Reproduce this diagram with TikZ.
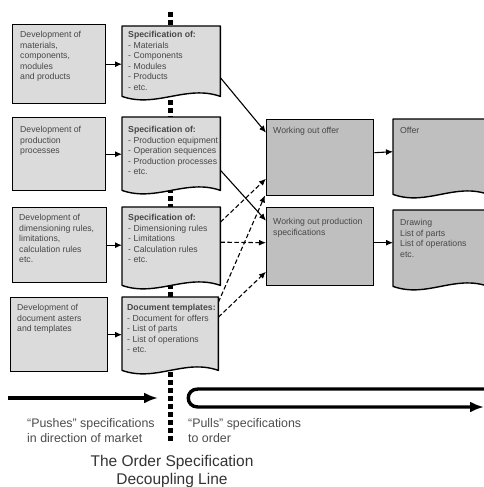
\documentclass[tikz,border=0pt]{standalone}
\usepackage{fontspec}
\setmainfont{Liberation Sans}
\usetikzlibrary{arrows.meta,calc}
\definecolor{lightbox}{gray}{0.86}
\definecolor{darkbox}{gray}{0.75}
\definecolor{txtgray}{gray}{0.28}
\definecolor{lowgray}{gray}{0.3}
\definecolor{titlegray}{gray}{0.2}
\newcommand{\docshape}[2]{%
  \filldraw[doc, fill=#2] (#1.south west) -- (#1.north west) -- (#1.north east) -- (#1.south east)
    .. controls ($(#1.south east)+(-34,-12)$) and ($(#1.south west)+(34,12)$) .. (#1.south west) -- cycle;}
\begin{document}
\begin{tikzpicture}[x=1pt,y=-1pt,
  box/.style={draw=black, line width=1.4pt, rectangle, inner sep=0pt, anchor=north west},
  lbox/.style={box, fill=lightbox},
  rbox/.style={box, fill=darkbox},
  docnode/.style={rectangle, inner sep=0pt, anchor=north west},
  doc/.style={draw=black, line width=1.4pt, line join=round},
  txt/.style={anchor=north west, inner sep=0pt, align=left, text=txtgray, font=\fontsize{8.7}{10.6}\selectfont},
  conn/.style={line width=1.1pt, -{Latex[length=7pt,width=6pt]}},
  dconn/.style={conn, dash pattern=on 4.5pt off 2.5pt},
  big/.style={line width=3.4pt, -{Latex[length=14pt,width=11pt]}},
  decoup/.style={line width=5pt, dash pattern=on 5pt off 3pt},
  lowtxt/.style={anchor=north west, inner sep=0pt, align=left, text=lowgray, font=\fontsize{12.4}{15}\selectfont},
]
\clip (0,0) rectangle (484,487);
\fill[white] (0,0) rectangle (484,487);

% decoupling line
\coordinate (dtop) at (170,12);
\coordinate (dbot) at (170,441);
\draw[decoup] (dtop) -- (dbot);

% left boxes
\node[lbox, minimum width=93pt, minimum height=79pt] (L1) at (12,24) {};
\node[lbox, minimum width=93pt, minimum height=73pt] (L2) at (12,117) {};
\node[lbox, minimum width=94pt, minimum height=75pt] (L3) at (12,207) {};
\node[lbox, minimum width=97pt, minimum height=74pt] (L4) at (10,297) {};

% specification documents
\node[docnode, minimum width=98pt, minimum height=70pt] (S1) at (122,26) {};
\node[docnode, minimum width=98pt, minimum height=73pt] (S2) at (122,117) {};
\node[docnode, minimum width=98pt, minimum height=78pt] (S3) at (122,207) {};
\node[docnode, minimum width=96pt, minimum height=73pt] (S4) at (122,297) {};
\docshape{S1}{lightbox}
\docshape{S2}{lightbox}
\docshape{S3}{lightbox}
\docshape{S4}{lightbox}

% right boxes
\node[rbox, minimum width=107pt, minimum height=76pt] (WO) at (266,119) {};
\node[rbox, minimum width=107pt, minimum height=78pt] (WP) at (266,207) {};
\node[docnode, minimum width=95pt, minimum height=75pt] (OF) at (393,119) {};
\node[docnode, minimum width=95pt, minimum height=76pt] (DR) at (393,210) {};
\docshape{OF}{darkbox}
\docshape{DR}{darkbox}

% texts
\node[txt] (L1t) at (20,31) {Development of\\materials,\\components,\\modules\\and products};
\node[txt] (L2t) at (20,126) {Development of\\production\\processes};
\node[txt] (L3t) at (19,214) {Development of\\dimensioning rules,\\limitations,\\calculation rules\\etc.};
\node[txt] (L4t) at (17,304) {Development of\\document asters\\and templates};

\node[txt] (S1t) at (128,31) {\textbf{Specification of:}\\- Materials\\- Components\\- Modules\\- Products\\- etc.};
\node[txt] (S2t) at (128,126) {\textbf{Specification of:}\\- Production equipment\\- Operation sequences\\- Production processes\\- etc.};
\node[txt] (S3t) at (128,214) {\textbf{Specification of:}\\- Dimensioning rules\\- Limitations\\- Calculation rules\\- etc.};
\node[txt] (S4t) at (127,304) {\textbf{Document templates:}\\- Document for offers\\- List of parts\\- List of operations\\- etc.};

\node[txt] (WOt) at (273,127) {Working out offer};
\node[txt] (WPt) at (273,218) {Working out production\\specifications};
\node[txt] (OFt) at (400,127) {Offer};
\node[txt] (DRt) at (400,219) {Drawing\\List of parts\\List of operations\\etc.};

% left to spec arrows
\draw[conn] (L1.east) -- (S1.west |- L1.east);
\draw[conn] (L2.east) -- (S2.west |- L2.east);
\draw[conn] (L3.east) -- (S3.west |- L3.east);
\draw[conn] (L4.east) -- (S4.west |- L4.east);

% spec to work boxes
\draw[conn] ($(S1.east)+(0,16.5)$) -- ($(WO.west)+(0,-25)$);
\draw[conn] ($(S2.east)+(0,16.5)$) -- ($(WP.west)+(0,-26)$);
\draw[dconn] ($(S3.east)+(0,-24)$) -- ($(WO.west)+(0,21)$);
\draw[dconn] ($(S3.east)+(0,-4)$) -- ($(WP.west)+(0,-4)$);
\draw[dconn] ($(S4.east)+(0,-31.5)$) -- ($(WO.south west)+(-1,-1)$);
\draw[dconn] ($(S4.east)+(0,-16.5)$) -- ($(WP.west)+(0,25)$);

% work to result
\draw[conn] ($(WO.east)+(0,-5)$) -- ($(OF.west)+(0,-5)$);
\draw[conn] ($(WP.east)+(0,-4)$) -- (DR.west |- {$(WP.east)+(0,-4)$});

% bottom arrows
\coordinate (pa) at (8,398);
\coordinate (pb) at (158,398);
\draw[big] (pa) -- (pb);
\coordinate (ua) at (490,389);
\coordinate (ub1) at (198,389);
\coordinate (ub2) at (198,407);
\coordinate (uc) at (484,407);
\draw[big] (ua) -- (ub1) .. controls (185,389) and (185,407) .. (ub2) -- (uc);

% bottom texts
\node[lowtxt] (push) at (27,418) {“Pushes” specifications\\in direction of market};
\node[lowtxt] (pull) at (188,418) {“Pulls” specifications\\to order};
\node[anchor=north, inner sep=0pt, align=center, text=titlegray, font=\fontsize{15.5}{18}\selectfont] (title) at (172,455) {The Order Specification\\Decoupling Line};
\end{tikzpicture}
\end{document}
